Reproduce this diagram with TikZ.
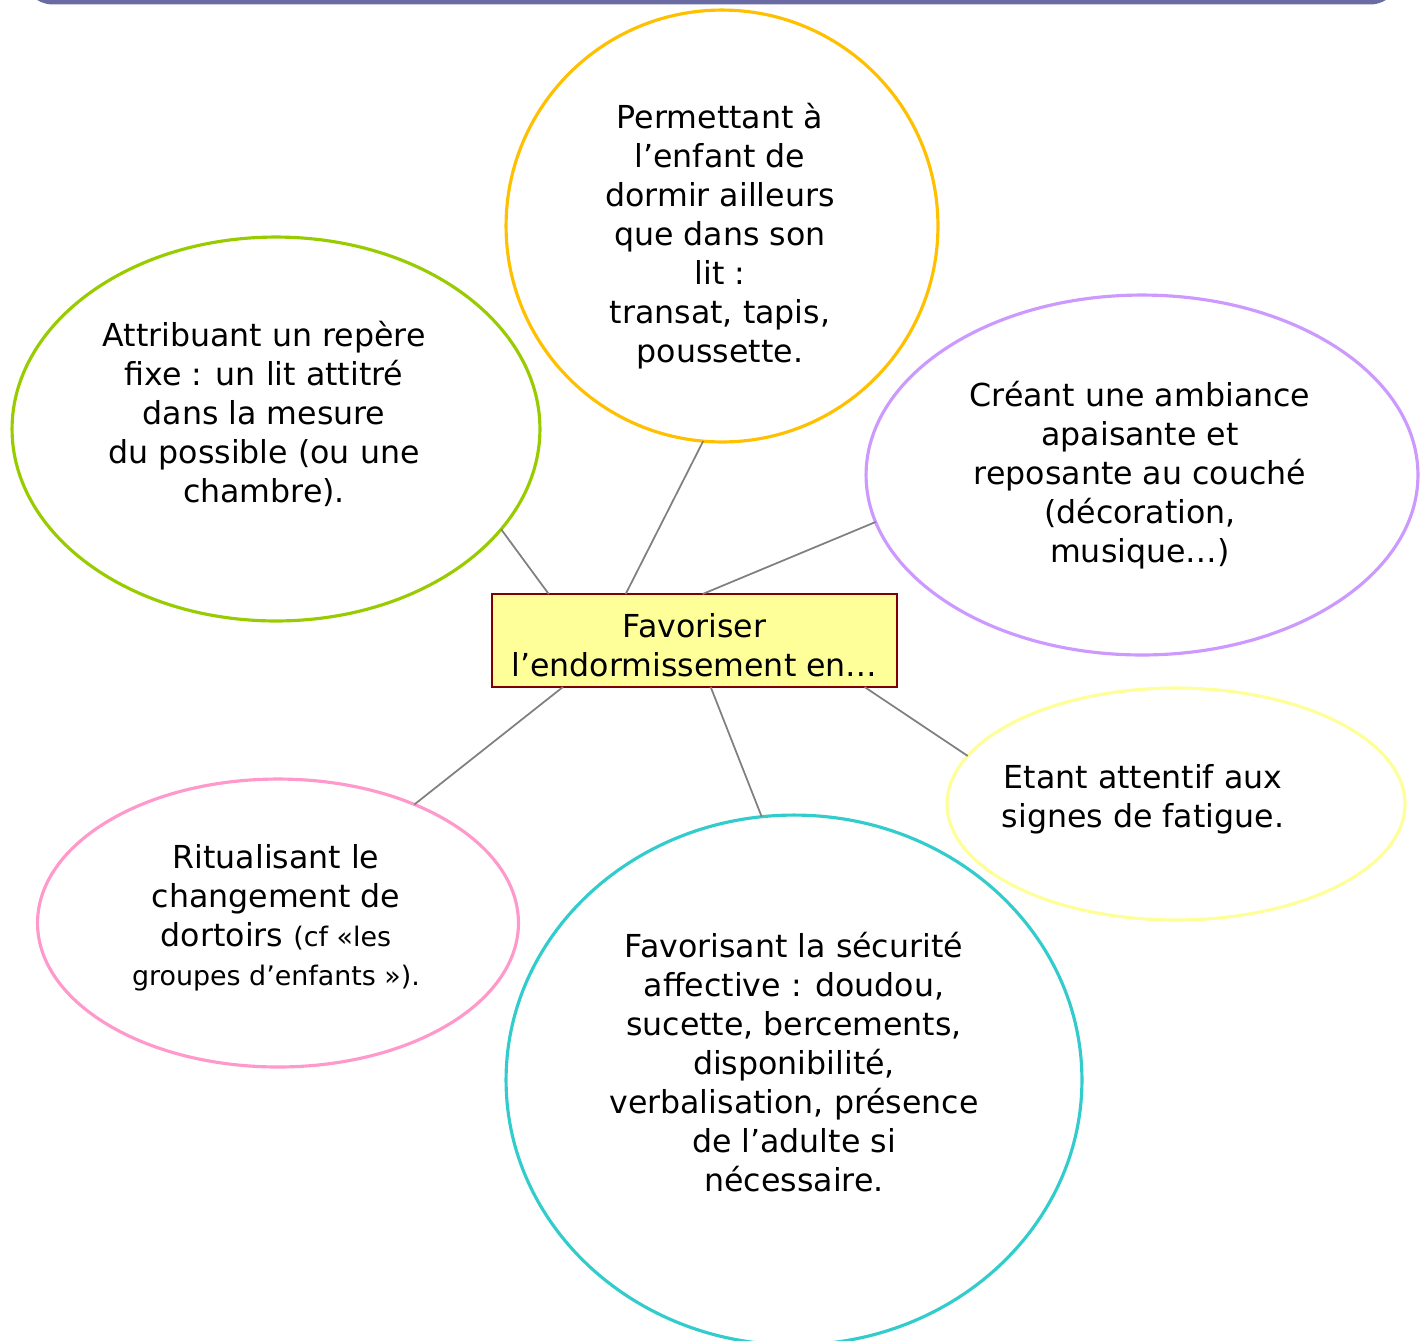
\documentclass[tikz,border=0pt]{standalone}
\usepackage{fontspec}
\setmainfont{DejaVu Sans}
\usetikzlibrary{shapes.geometric,calc}
\definecolor{frameblue}{HTML}{6B6BA3}
\definecolor{goldline}{HTML}{FFC000}
\definecolor{greenline}{HTML}{99CC00}
\definecolor{lilacline}{HTML}{CC99FF}
\definecolor{paleline}{HTML}{FFFF99}
\definecolor{pinkline}{HTML}{FF99CC}
\definecolor{tealline}{HTML}{33CCCC}
\definecolor{hubfill}{HTML}{FFFF99}
\definecolor{hubred}{HTML}{800000}
\definecolor{spokegray}{HTML}{808080}
\newcommand{\bubblefont}{\fontsize{18}{22.2}\selectfont}
\newcommand{\smallbubble}{\fontsize{15.3}{19.8}\selectfont}
\tikzset{
  bubble/.style={
    ellipse,
    draw,
    line width=1.8pt,
    inner sep=0pt,
    outer sep=0pt
  },
  bubble text/.style={
    inner sep=0pt,
    align=center,
    font=\bubblefont
  },
  hub/.style={
    rectangle,
    draw=hubred,
    fill=hubfill,
    line width=1.1pt,
    inner sep=0pt,
    outer sep=0pt,
    minimum width=8.1cm,
    minimum height=1.86cm
  },
  spoke/.style={
    draw=spokegray,
    line width=1pt
  },
}

\begin{document}
\begin{tikzpicture}[x=0.02cm,y=-0.02cm]
  \useasboundingbox (0,0) rectangle (1425,1340);
  \draw[frameblue,line width=3.4pt,rounded corners=16pt] (25,-150) rectangle (1398,1.5);
  % bulles
  \node[hub] (hub) at (694.5,640.5) {};
  \node[bubble,draw=goldline,minimum width=8.64cm,minimum height=8.64cm] (lieu) at (722,226) {};
  \node[bubble,draw=greenline,minimum width=10.56cm,minimum height=7.68cm] (repere) at (276,429) {};
  \node[bubble,draw=lilacline,minimum width=11.04cm,minimum height=7.2cm] (ambiance) at (1142,475) {};
  \node[bubble,draw=paleline,minimum width=9.16cm,minimum height=4.64cm] (fatigue) at (1176,804) {};
  \node[bubble,draw=pinkline,minimum width=9.62cm,minimum height=5.76cm] (rituel) at (278,923) {};
  \node[bubble,draw=tealline,minimum width=11.52cm,minimum height=10.6cm] (securite) at (794,1080) {};
  % textes
  \node[bubble text] (hub-text) at ($(hub.center)+(0,5)$) {Favoriser\\l’endormissement en…};
  \node[bubble text] (lieu-text) at ($(lieu.center)+(-2,10)$)
    {Permettant à\\l’enfant de\\dormir ailleurs\\que dans son\\lit :\\transat, tapis,\\poussette.};
  \node[bubble text] (repere-text) at ($(repere.center)+(-12,-15)$)
    {Attribuant un repère\\fixe : un lit attitré\\dans la mesure\\du possible (ou une\\chambre).};
  \node[bubble text] (ambiance-text) at ($(ambiance.center)+(-2,0)$)
    {Créant une ambiance\\apaisante et\\reposante au couché\\(décoration,\\musique…)};
  \node[bubble text] (fatigue-text) at ($(fatigue.center)+(-33,-5)$)
    {Etant attentif aux\\signes de fatigue.};
  \node[bubble text] (rituel-text) at ($(rituel.center)+(-2,-5)$)
    {Ritualisant le\\changement de\\dortoirs {\smallbubble(cf «les}\\{\smallbubble groupes d’enfants »).}};
  \node[bubble text] (securite-text) at ($(securite.center)+(0,-18)$)
    {Favorisant la sécurité\\affective : doudou,\\sucette, bercements,\\disponibilité,\\verbalisation, présence\\de l’adulte si\\nécessaire.};
  % liens vers le centre
  \draw[spoke] ($(hub.north west)!0.14!(hub.north east)$) -- (repere.336);
  \draw[spoke] ($(hub.north west)!0.33!(hub.north east)$) -- (lieu.265);
  \draw[spoke] ($(hub.north west)!0.52!(hub.north east)$) -- (ambiance.190);
  \draw[spoke] ($(hub.south west)!0.175!(hub.south east)$) -- (rituel.41);
  \draw[spoke] ($(hub.south west)!0.54!(hub.south east)$) -- (securite.97);
  \draw[spoke] ($(hub.south west)!0.92!(hub.south east)$) -- (fatigue.167);
\end{tikzpicture}
\end{document}
